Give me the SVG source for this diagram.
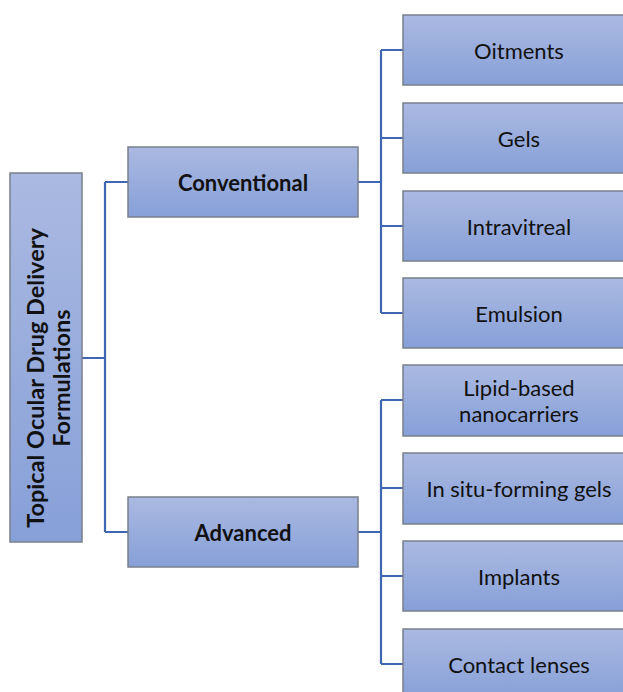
<svg xmlns="http://www.w3.org/2000/svg" width="623" height="692" viewBox="0 0 623 692">
<defs>
<linearGradient id="g" x1="0" y1="0" x2="0" y2="1">
<stop offset="0" stop-color="#aab9e1"/>
<stop offset="1" stop-color="#87a0d8"/>
</linearGradient>
</defs>
<style>
.box{fill:url(#g);stroke:#7a7f8a;stroke-width:1.5}
.t{font-family:Lato,"Liberation Sans",sans-serif;font-size:22px;fill:#111;text-anchor:middle;dominant-baseline:central}
.b{font-weight:bold}
.c{fill:none;stroke:#3f66b0;stroke-width:2.2}
</style>
<rect width="623" height="692" fill="#fff"/>
<g id="connectors">
<path class="c" d="M82 358H105M105 182V532M105 182H128M105 532H128"/>
<path class="c" d="M358 182H381M381 50V313M381 50H403M381 138H403M381 226H403M381 313H403"/>
<path class="c" d="M358 532H381M381 400V664M381 400H403M381 488H403M381 576H403M381 664H403"/>
</g>
<g id="root">
<rect class="box" x="10" y="173" width="72" height="369"/>
<text class="t b" style="font-size:23.5px" transform="translate(48 378) rotate(-90)"><tspan x="0" y="-13">Topical Ocular Drug Delivery</tspan><tspan x="0" y="13">Formulations</tspan></text>
</g>
<g id="conventional"><rect class="box" x="128" y="147" width="230" height="70"/><text class="t b" x="243" y="182">Conventional</text></g>
<g id="advanced"><rect class="box" x="128" y="497" width="230" height="70"/><text class="t b" x="243" y="532">Advanced</text></g>
<g id="oitments"><rect class="box" x="403" y="15" width="225" height="70"/><text class="t" x="519" y="50">Oitments</text></g>
<g id="gels"><rect class="box" x="403" y="103" width="225" height="70"/><text class="t" x="519" y="138">Gels</text></g>
<g id="intravitreal"><rect class="box" x="403" y="191" width="225" height="70"/><text class="t" x="519" y="226">Intravitreal</text></g>
<g id="emulsion"><rect class="box" x="403" y="278" width="225" height="70"/><text class="t" x="519" y="313">Emulsion</text></g>
<g id="lipid"><rect class="box" x="403" y="365" width="225" height="71"/><text class="t"><tspan x="519" y="387">Lipid-based</tspan><tspan x="519" y="413">nanocarriers</tspan></text></g>
<g id="insitu"><rect class="box" x="403" y="453" width="225" height="71"/><text class="t" x="519" y="488">In situ-forming gels</text></g>
<g id="implants"><rect class="box" x="403" y="541" width="225" height="70"/><text class="t" x="519" y="576">Implants</text></g>
<g id="contact"><rect class="box" x="403" y="629" width="225" height="70"/><text class="t" x="519" y="664">Contact lenses</text></g>
</svg>
